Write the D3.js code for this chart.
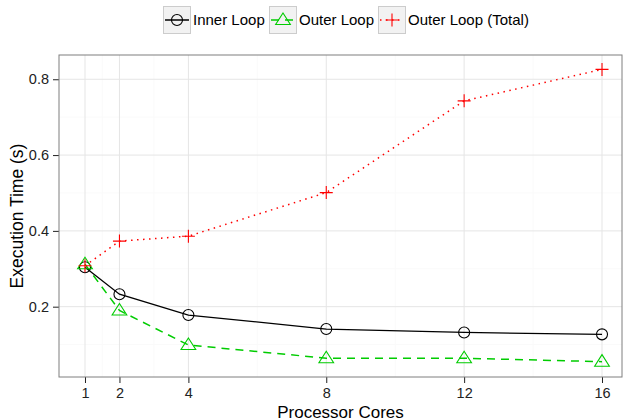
<!DOCTYPE html>
<html><head><meta charset="utf-8">
<script src="https://cdnjs.cloudflare.com/ajax/libs/d3/7.8.5/d3.min.js"></script>
<style>body{margin:0;background:#fff}svg{display:block;font-family:"Liberation Sans",Arial,sans-serif}</style>
</head><body><svg id="c" width="624" height="420"></svg>
<script>
const cores = [1, 2, 4, 8, 12, 16];
const innerLoop = [0.304, 0.233, 0.178, 0.141, 0.132, 0.127];
const outerLoop = [0.312, 0.190, 0.099, 0.064, 0.064, 0.055];
const outerTotal = [0.308, 0.373, 0.386, 0.501, 0.743, 0.826];
const xTicks = [1, 2, 4, 8, 12, 16];
const xMinor = [1.5, 3, 6, 10, 14];
const yTicks = [0.2, 0.4, 0.6, 0.8];
const yMinor = [0.1, 0.3, 0.5, 0.7];
const seriesNames = ["Inner Loop", "Outer Loop", "Outer Loop (Total)"];

const svg = d3.select("#c");
const L = 59, R = 622, T = 55, B = 377;
const x = d3.scaleLinear().domain([0.246, 16.58]).range([L, R]);
const y = d3.scaleLinear().domain([0.0145, 0.864]).range([B, T]);

// grid
const g = svg.append("g");
g.selectAll(".ymin").data(yMinor).enter().append("line")
  .attr("x1", L).attr("x2", R).attr("y1", d => y(d)).attr("y2", d => y(d))
  .attr("stroke", "#fafafa").attr("stroke-width", 1);
g.selectAll(".xmin").data(xMinor).enter().append("line")
  .attr("y1", T).attr("y2", B).attr("x1", d => x(d)).attr("x2", d => x(d))
  .attr("stroke", "#fafafa").attr("stroke-width", 1);
g.selectAll(".ymaj").data(yTicks).enter().append("line")
  .attr("x1", L).attr("x2", R).attr("y1", d => y(d)).attr("y2", d => y(d))
  .attr("stroke", "#e5e5e5").attr("stroke-width", 1);
g.selectAll(".xmaj").data(xTicks).enter().append("line")
  .attr("y1", T).attr("y2", B).attr("x1", d => x(d)).attr("x2", d => x(d))
  .attr("stroke", "#e5e5e5").attr("stroke-width", 1);

// axes
const xAxis = d3.axisBottom(x).tickValues(xTicks).tickSize(6).tickPadding(5).tickFormat(d3.format("d"));
const yAxis = d3.axisLeft(y).tickValues(yTicks).tickSize(6).tickPadding(4).tickFormat(d3.format(".1f"));
const xa = svg.append("g").attr("transform", `translate(0,${B})`).call(xAxis);
const ya = svg.append("g").attr("transform", `translate(${L},0)`).call(yAxis);
[xa, ya].forEach(a => {
  a.select(".domain").remove();
  a.selectAll(".tick line").attr("stroke", "#222").attr("stroke-width", 1);
  a.selectAll(".tick text").attr("fill", "#222").style("font-size", "14.5px");
});

// lines
const line = d3.line().x(d => x(d[0])).y(d => y(d[1]));
const zip = vals => cores.map((c, i) => [c, vals[i]]);
svg.append("path").datum(zip(outerTotal)).attr("d", line).attr("fill", "none")
  .attr("stroke", "#ff0000").attr("stroke-width", 1.5).attr("stroke-dasharray", "1.5,4.5");
svg.append("path").datum(zip(outerLoop)).attr("d", line).attr("fill", "none")
  .attr("stroke", "#00cc00").attr("stroke-width", 1.5).attr("stroke-dasharray", "8,6");
svg.append("path").datum(zip(innerLoop)).attr("d", line).attr("fill", "none")
  .attr("stroke", "#000").attr("stroke-width", 1.3);

// markers
function circle(sel, cx, cy) {
  sel.append("circle").attr("cx", cx).attr("cy", cy).attr("r", 5.5)
    .attr("fill", "none").attr("stroke", "#000").attr("stroke-width", 1.1);
}
function tri(sel, cx, cy) {
  const s = 7;
  sel.append("path").attr("d", `M${cx},${cy - s}L${cx + s * 1.05},${cy + s * 0.65}L${cx - s * 1.05},${cy + s * 0.65}Z`)
    .attr("fill", "none").attr("stroke", "#00cc00").attr("stroke-width", 1.1);
}
function plus(sel, cx, cy) {
  const s = 6.5;
  sel.append("path").attr("d", `M${cx - s},${cy}H${cx + s}M${cx},${cy - s}V${cy + s}`)
    .attr("fill", "none").attr("stroke", "#ff0000").attr("stroke-width", 1.1);
}
const mk = svg.append("g");
zip(innerLoop).forEach(d => circle(mk, x(d[0]), y(d[1])));
zip(outerLoop).forEach(d => tri(mk, x(d[0]), y(d[1])));
zip(outerTotal).forEach(d => plus(mk, x(d[0]), y(d[1])));

// panel border
svg.append("rect").attr("x", L).attr("y", T).attr("width", R - L).attr("height", B - T)
  .attr("fill", "none").attr("stroke", "#7f7f7f").attr("stroke-width", 1);

// axis titles
svg.append("text").attr("x", (L + R) / 2).attr("y", 417.5).attr("text-anchor", "middle")
  .style("font-size", "17px").attr("fill", "#000").text("Processor Cores");
svg.append("text").attr("transform", `translate(22.5,${(T + B) / 2}) rotate(-90)`).attr("text-anchor", "middle")
  .style("font-size", "17.5px").attr("fill", "#000").text("Execution Time (s)");

// legend
const keyX = [163, 269, 378];
const lg = svg.append("g");
seriesNames.forEach((name, i) => {
  const kx = keyX[i], ky = 6, ks = 27;
  lg.append("rect").attr("x", kx + 0.5).attr("y", ky + 0.5).attr("width", ks).attr("height", ks)
    .attr("fill", "#f2f2f2").attr("stroke", "#cccccc").attr("stroke-width", 1);
  const cx = kx + ks / 2 + 0.5, cy = ky + ks / 2 + 0.5;
  const col = ["#000", "#00cc00", "#ff0000"][i];
  const dash = [null, "8,6", "1.5,4.5"][i];
  lg.append("line").attr("x1", kx + 2).attr("x2", kx + ks - 1).attr("y1", cy).attr("y2", cy)
    .attr("stroke", col).attr("stroke-width", 1.5).attr("stroke-dasharray", dash);
  if (i === 0) circle(lg, cx, cy);
  if (i === 1) tri(lg, cx, cy);
  if (i === 2) plus(lg, cx, cy);
  lg.append("text").attr("x", kx + ks + 3).attr("y", cy + 5).style("font-size", "15px")
    .attr("fill", "#000").text(name);
});
</script></body></html>
